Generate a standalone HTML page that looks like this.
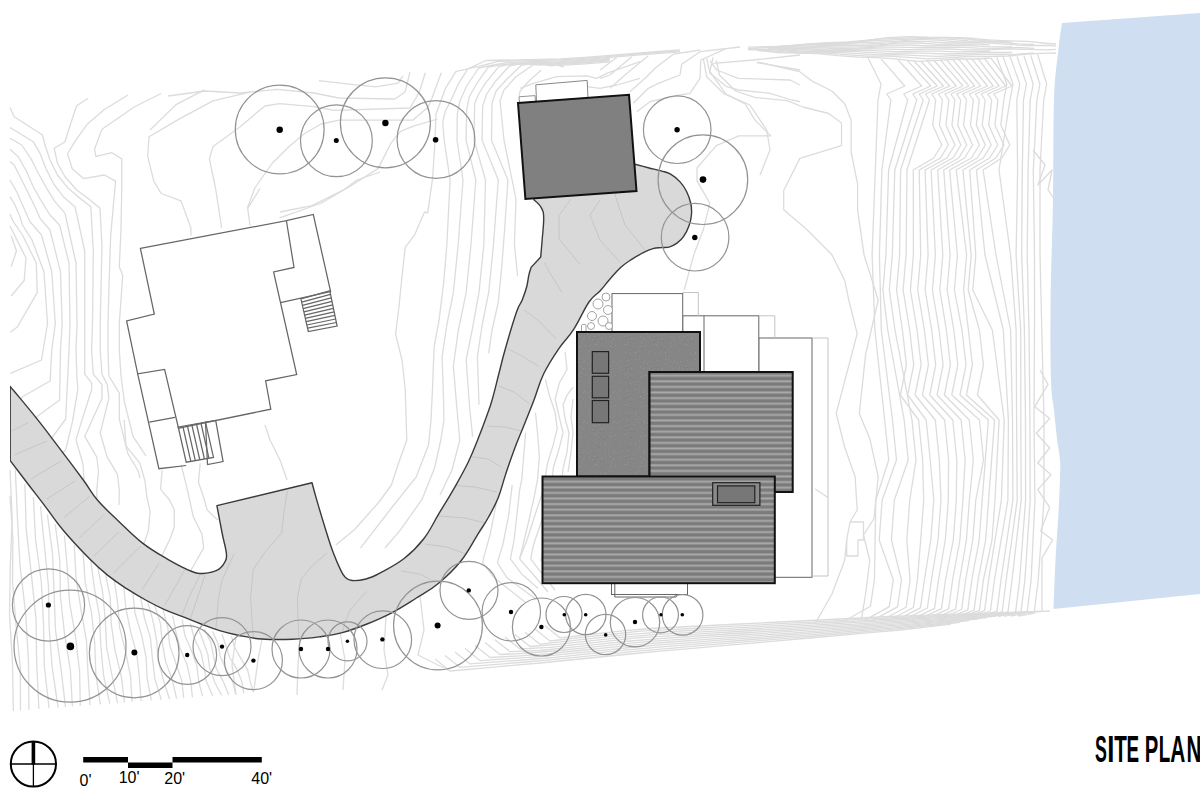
<!DOCTYPE html>
<html><head><meta charset="utf-8"><title>Site Plan</title>
<style>
html,body{margin:0;padding:0;background:#fff;}
body{width:1200px;height:810px;overflow:hidden;position:relative;font-family:"Liberation Sans",sans-serif;}
svg{position:absolute;left:0;top:0;}
</style></head><body>
<svg width="1200" height="810" viewBox="0 0 1200 810">
<defs>
<pattern id="stripe" patternUnits="userSpaceOnUse" width="10" height="5.6" y="2.9">
<rect width="10" height="5.6" fill="#7b7b7b"/>
<rect y="2.2" width="10" height="2" fill="#a9a9a9"/>
</pattern>
<pattern id="stripe2" patternUnits="userSpaceOnUse" width="10" height="5.6" y="2.5">
<rect width="10" height="5.6" fill="#7b7b7b"/>
<rect y="2.2" width="10" height="2" fill="#a9a9a9"/>
</pattern>
<pattern id="stipple" patternUnits="userSpaceOnUse" width="30" height="30"><rect width="30" height="30" fill="#868686"/><rect x="19" y="8" width="1" height="1" fill="#8f8f8f"/><rect x="25" y="22" width="1" height="1" fill="#929292"/><rect x="26" y="14" width="1" height="1" fill="#959595"/><rect x="20" y="1" width="1" height="1" fill="#959595"/><rect x="3" y="11" width="1" height="1" fill="#7a7a7a"/><rect x="27" y="7" width="1" height="1" fill="#7a7a7a"/><rect x="17" y="3" width="1" height="1" fill="#959595"/><rect x="0" y="23" width="1" height="1" fill="#959595"/><rect x="13" y="8" width="1" height="1" fill="#959595"/><rect x="29" y="27" width="1" height="1" fill="#7a7a7a"/><rect x="5" y="24" width="1" height="1" fill="#929292"/><rect x="4" y="19" width="1" height="1" fill="#7a7a7a"/><rect x="4" y="4" width="1" height="1" fill="#929292"/><rect x="27" y="0" width="1" height="1" fill="#959595"/><rect x="24" y="6" width="1" height="1" fill="#959595"/><rect x="27" y="5" width="1" height="1" fill="#8f8f8f"/><rect x="10" y="6" width="1" height="1" fill="#959595"/><rect x="5" y="22" width="1" height="1" fill="#959595"/><rect x="28" y="12" width="1" height="1" fill="#8f8f8f"/><rect x="0" y="11" width="1" height="1" fill="#7a7a7a"/><rect x="5" y="29" width="1" height="1" fill="#959595"/><rect x="8" y="2" width="1" height="1" fill="#8f8f8f"/><rect x="9" y="26" width="1" height="1" fill="#929292"/><rect x="19" y="21" width="1" height="1" fill="#8f8f8f"/><rect x="2" y="9" width="1" height="1" fill="#8f8f8f"/><rect x="26" y="9" width="1" height="1" fill="#7a7a7a"/><rect x="22" y="10" width="1" height="1" fill="#959595"/><rect x="15" y="15" width="1" height="1" fill="#959595"/><rect x="1" y="8" width="1" height="1" fill="#929292"/><rect x="23" y="11" width="1" height="1" fill="#7a7a7a"/><rect x="0" y="17" width="1" height="1" fill="#7a7a7a"/><rect x="11" y="12" width="1" height="1" fill="#929292"/><rect x="14" y="1" width="1" height="1" fill="#959595"/><rect x="19" y="6" width="1" height="1" fill="#929292"/><rect x="24" y="7" width="1" height="1" fill="#7a7a7a"/><rect x="11" y="16" width="1" height="1" fill="#8f8f8f"/><rect x="28" y="16" width="1" height="1" fill="#8f8f8f"/><rect x="24" y="14" width="1" height="1" fill="#929292"/><rect x="18" y="23" width="1" height="1" fill="#8f8f8f"/><rect x="27" y="9" width="1" height="1" fill="#929292"/><rect x="13" y="2" width="1" height="1" fill="#959595"/><rect x="10" y="16" width="1" height="1" fill="#8f8f8f"/><rect x="29" y="4" width="1" height="1" fill="#8f8f8f"/><rect x="8" y="29" width="1" height="1" fill="#929292"/><rect x="9" y="21" width="1" height="1" fill="#8f8f8f"/></pattern>
</defs>
<rect width="1200" height="810" fill="#fff"/>

<!-- CONTOURS -->
<g fill="none" stroke="#dcdcdc" stroke-width="1.3" stroke-linejoin="round"><polyline points="161.2,93.5 134.1,107 102,129.3 94.6,149 95.8,156.4 111.9,152.7 121.7,158.9 121.7,193.5 121,228.6 119.3,266.7 122.7,275.3 119.3,323.7 119.3,350 121,376 124.4,401.8 133,436.4 140,446.8 146,456"/><polyline points="128,95 104.4,109.5 87.2,124.3 74.8,141.6 67.4,154 72.3,168.8 83.5,178.6 104.4,175 115.6,181.1 113.1,208.3 110.6,237.3 108.9,289 108,323.7 108,350 108.9,376 119.3,393.2 119.3,419.1 127.9,453.7 138.3,471 140,478"/><polyline points="88.3,98.3 76.7,105.8 70.8,123.3 65,141.7 54.2,148.3 57.5,163.3 65,176.7 76.7,190 90,200 100,208.3 102,246 100.2,323.7 100.2,350 102,374.2 107.2,384.6 108.9,398.4 100.2,433 107.2,457.2 117.5,474.4 119.3,490 119,505"/><polyline points="10,107.5 14.2,116.7 42.5,135 45,145 50,160 57.5,175 68.3,188.3 80,198.3 90.8,206.7 93.3,251 92.5,323.7 91.6,350 93.3,374.2 102,384.6 102,398.4 84.7,436.4 96.8,457.2 98.5,471 96.8,490 97,500"/><polyline points="10,127.5 33.3,141.7 40,153.3 45.8,168.3 53.3,183.3 63.3,196.7 75,206.7 84.7,251 84.7,323.7 84.7,350 84.7,374.2 91.6,382.8 91.6,389.7 81.2,422.6 76,439.9 83,464 84,480"/><polyline points="10,138.3 21.7,145 30.8,158.3 38.3,173.3 46.7,188.3 55,201.7 65,213.3 76,263 77,323.7 76,350 76.9,376 77.8,389.7 72.6,420.9 65.7,450.2 62,453"/><polyline points="10,149.2 18.3,156.7 26.7,171.7 33.3,186.7 41.7,201.7 50,215 59.6,225 69,263 70,323.7 69,350 65.7,419 51.8,438 49,440"/><polyline points="10,161.7 14.2,165 21.7,180 28.3,193.3 35,206.7 40,218.3 50,230 60.5,271.8 62.2,323.7 60.5,350 59.6,400 38,415.7 35,419"/><polyline points="10,180 16.7,191.7 23.3,206.7 30,221.7 41.5,235 51.8,271.8 55.3,323.7 51.8,350 50.1,381 22.5,396.7 20,400"/><polyline points="10,196.7 15,205 20,216.7 22.5,225 32,240 44,271.8 47.5,323.7 41.5,360 10.4,373.3"/><polyline points="10,214.2 13.3,221.7 22.5,235 36.3,263 37.2,292.6 17.3,327 10.4,332.3"/><polyline points="10,226 13,232 26,258 24.2,280.5 11.2,296"/><polyline points="11.2,235.6 16.4,251 11.2,266.7"/><polyline points="319,80.7 351,84.4 375.8,86.9 398,83.2 403,75.8"/><polyline points="168,96 205,91 240,93 277,89.4 314,93 338.8,98 395,99 405,92 410,72"/><polyline points="221.7,228 215.6,188.5 209.4,158.9 213,146.5 240.2,126.8 257.5,112 265,106 279.6,103.7 314,106.7 333.8,110.4 410,108 416,98 420,90 425.3,72.7"/><polyline points="250,92.2 213,100.9 178.5,119.4 149,136.7 147.7,156.4 153.8,181.1 161.2,193.5 181,200.9 190.9,228 190.9,235.4"/><polyline points="204.4,89.8 176,104.6 150,130"/><polyline points="321,124 338.8,120.2 412.8,120.2 428,107.3 432,98 441.3,72.7"/><polyline points="247.4,208 254.8,188 272,163.5 289.4,146.2 304.2,133.8 321,124"/><polyline points="279.5,217.8 321.5,203 351,185.7 378.3,168.4 390.6,143.7 400.5,131.4 412.8,126.4 437.5,119"/><polyline points="260,188.5 247.7,208.3 250,225.6"/><polyline points="280,212 312,205.7 344.2,189.6 357,180 380,172"/><polyline points="436,114 435,141 432.6,178.3 427.7,212.8 424.5,212 414.8,234.6 405.2,247.4 402,276.3 398.8,308.4 395.6,334.1 402,359.8 405.2,388.7 406.8,440 397.6,466 391.4,485 379,502 354.4,529.7 335.8,545.1"/><polyline points="442.7,122 444,138.8 450.1,180 446.9,244.2 443.7,282.7 438.9,321.3 434.1,346.9 432.5,388.7 431,420 428.5,445 416.1,477.2 391.4,508 360.5,548.2"/><polyline points="457.3,114 457,140 463,180 458.2,244.2 453.4,292.4 446.9,324.5 442.1,356.6 443.7,404.7 443.9,420 440.8,440 434.6,467.9 422.3,498.8 400.7,529.7 385,548"/><polyline points="466.7,110 466,140 475.8,180 471,244.2 466.2,292.4 458.2,330.9 453.4,366.2 456.6,404.7 459.8,440 452,470 440,495"/><polyline points="474.7,103.3 474,140 485.5,180 483.9,244.2 479,292.4 472.6,327.7 466.2,359.8 469.4,404.7 472.6,436.8"/><polyline points="482.7,106 482,140 498.3,180 493.5,244.2 488.7,292.4 482.2,324.5 477.4,356.6 479,404.7"/><polyline points="492,103.3 491.5,140 507.9,180 504.7,228.2 501.5,269.9 498.3,302 491.9,330.9 488.7,353.4"/><polyline points="500,100.7 504,140 516,199.3 514.4,244.2 517.6,276.3"/><polyline points="713,57.3 709.9,71.7 726,94.2 745.2,103.8 754.8,119.9 770.9,135.9 738.8,135.9 716.3,145.6 697,168 697,180.9 709.9,203.4 703.5,229 693.8,254.7 684.2,290"/><polyline points="716.3,60.5 719.5,75 735.6,91 754.8,97.4 787,100.6 803,107 828.7,113.5 841.5,123.1 841.5,145.6 799.8,158.4 783.7,190.5 783.7,209.8 806.2,229 831.9,254.7 844.7,280.4 848.8,300 857.2,333.6 836.2,413.4 844.6,447 855.1,476.5 857.2,510 850,522 846.7,540 844.6,560.5 832,594 815.2,623.5"/><polyline points="758,62.1 799.8,71.7 812.6,81.4 831.9,91 844.7,103.8 851.1,119.9 851.1,152 857.6,184.1 857.6,209.8 864,254.7 872,280 878.2,300 865.6,354.6 859.3,413.4 869.8,438.7 878.2,476.5 874,518.5 863.5,535 869.8,560.5 865.6,594 861.4,619.3"/><polyline points="680,50 640,53 610,55.5 585,57.5 560,59 486,60.5 468,68.8 456,71.3 445.3,88.7 440,103.3 436,114"/><polyline points="680,50.9 640,53.9 610,56.4 585,58.4 560,59.9 498,61.4 480,66.2 468,68.7 458.7,83.3 450.7,100.7 445.3,111.3 442.7,122"/><polyline points="680,51.8 640,54.8 610,57.3 585,59.3 560,60.8 508.7,62.3 490.7,65.5 478.7,68 466.7,86 460,100.7 457.3,114"/><polyline points="610,58.2 585,60.2 560,61.7 518,63.2 500,64.8 488,67.3 476,84.7 469.3,96.7 466.7,110"/><polyline points="610,59.1 585,61.1 560,62.6 528.7,64.1 510.7,64.2 498.7,66.7 485.3,83.3 478.7,94 474.7,103.3"/><polyline points="610,60 585,62 560,63.5 539.3,65 521.3,63.5 509.3,66 496,80.7 486.7,94 482.7,106"/><polyline points="610,60.9 585,62.9 560,64.4 551.3,65.9 533.3,62.8 521.3,65.3 506.7,79.3 496,91.3 492,103.3"/><polyline points="610,61.8 585,63.8 560,65.3 563.3,66.8 545.3,62.2 533.3,64.7 516,76.7 504,90 500,100.7"/><polyline points="541.3,70 528,82 520,91.3 519,96"/><polyline points="520,88.3 533.3,83.3 556.7,76.7 586.7,75.8 596.7,78.3 606.7,73.3 640,61.7"/><polyline points="586.7,86.7 600,88.3 616.7,85 640,78.3"/><polyline points="600,70 616.7,57.5"/><polyline points="600,78.3 610,75 631.7,56.7"/><polyline points="610,88.3 625,75 648.3,55.8"/><polyline points="630,91.7 646.7,76.7 655,68.3 673.3,54.2 700,50"/><polyline points="633.3,103.3 648.3,88.3 658.3,83.3 680,75 681.7,64.2 700,51.7 740,47"/><polyline points="636.7,111.7 650,101.7 680,95 690,93.3 700,78.3 700.8,60 725,49.2"/><polyline points="703.3,58.3 706.7,76.7 723.3,93.3 750,105 766.7,130 770,150 760,175"/><polyline points="706.7,58.3 710,73.3 726.7,86.7 738.3,90 770,93.3 791.7,100 800,101.7"/><polyline points="710,60.8 716.7,70 738.3,78.3 790,80 800,85"/><polyline points="713.3,63.3 753.3,60 800,55"/><polyline points="756.7,62.5 800,70"/><polyline points="850,522 863.5,522 863.5,540 858,540 858,556 846.7,556 846.7,540"/><polyline points="815.2,489 827.8,497.5"/><polyline points="565.1,351.7 567,369.4 559.2,383.3 555.2,399 559.2,416.8 563.1,432.6 559.2,448.3 553.3,468 551.3,489.8 541.9,520 533.5,545 530.7,558.9 541.9,573.7 555,590"/><polyline points="545.4,379.3 549.3,395.1 555.2,412.8 557.2,428.6 553.3,444.4 547.3,464.1 543.4,489.8 535,515 527,540 519.6,558.9 532.6,573.7 548,592"/><polyline points="573,387.2 567,395.1 563.1,405 565.1,418.8 569,432.6 567,452.3 563.1,468 561.1,487.8 550,515 545,540 541,560 555,575"/><polyline points="573,399 571,416.8 573,432.6 571,452.3 568,472"/><polyline points="535.5,412.8 537.5,432.6 539.4,456.2 537.5,479.9 533.5,500 529,520 523.3,544 519.6,558.9"/><polyline points="525.6,432.6 523.7,456.2 521.7,479.9 519.6,490 517.8,507 514,540.4 510.4,558.9 521.5,573.7 538.1,588.5"/><polyline points="512.2,484.8 508.5,516.3 503,544 497.4,562.6 506.7,577.4 521.5,588.5 536.3,599.6"/><polyline points="499.3,475.6 495.6,507 490,534.8 484.4,555.2 482.6,562.6 493.7,577.4 510.4,590.4 525,602"/><polyline points="124.2,420 125.9,445.9 139.8,463.2 144.9,480.5 146.7,496 150.1,511.6 148.4,530.6 144.9,541 142,548"/><polyline points="162.2,470.1 160.5,489.1 169.1,499.5 174.3,509.9 174.3,527.2 169.1,541 163.9,551.4 160,560"/><polyline points="181.2,465 186.4,485.7 189.9,501.2 193.3,516.8 202,534.1 203.7,547.9 196.8,560 190,572"/><polyline points="200.2,463.2 198.5,482.2 203.7,497.8 207.2,509.9 214,516.8 218,520"/><polyline points="1040,370 1048,384.4 1034.8,406.7 1049.6,418.5 1036.3,433.3 1049.6,448 1037.8,463 1051,474.8 1037.8,489.6 1049.6,507.4 1040.7,531 1052.6,540 1042,557.8 1042,612"/><polyline points="1033,150 1045,165 1038,185 1052,170 1048,190 1055,200"/><polyline points="265,425 270,440 280,460 287,480"/><polyline points="10,470 12.2,518.2 10.3,566.4 9.5,614.7 12.5,662.9 13.4,711.1"/><polyline points="10,495.8 12.9,538.7 12.5,581.7 16,624.6 20.3,667.5 20.5,710.4"/><polyline points="15.3,469.2 17.4,517.3 20,565.4 25.7,613.5 28.5,661.6 28.9,709.7"/><polyline points="24.9,483.9 26.2,528.9 31.3,573.9 36,618.9 36.7,663.9 38.9,708.9"/><polyline points="33.4,497 35.5,539.3 41.3,581.5 43.5,623.7 44.3,666 49.1,708.2"/><polyline points="40.5,506.1 44.5,546.4 48.5,586.7 49.1,627 52.2,667.4 58.1,707.7"/><polyline points="47.4,514.6 52.5,553.1 54,591.6 55.5,630.1 61,668.6 65.5,707.1"/><polyline points="55.3,524.3 59.8,560.7 60.5,597.2 64.5,633.6 70.4,670.1 72.4,706.5"/><polyline points="64.5,535.7 67.4,569.7 69.7,603.7 75.7,637.7 79.6,671.8 80.3,705.8"/><polyline points="74.2,545.3 76,577.2 80.9,609.2 86.5,641.1 88,673.1 90,705"/><polyline points="83.1,552.9 85.3,583.1 91.6,613.4 94.8,643.7 95.8,674 100.3,704.3"/><polyline points="90.6,559.2 94.4,588.1 99.6,617 100.8,645.9 103.5,674.8 109.8,703.7"/><polyline points="97.4,565.1 102.7,592.7 105.3,620.3 106.7,647.9 112,675.5 117.6,703.2"/><polyline points="104.9,571.1 110.2,597.4 111.2,623.7 114.9,650 121.3,676.3 124.5,702.6"/><polyline points="113.8,577.7 117.6,602.5 119.6,627.3 125.7,652.2 130.7,677 132,701.9"/><polyline points="123.5,584.8 125.9,608 130.5,631.3 136.9,654.6 139.4,677.8 141.1,701.1"/><polyline points="132.7,591.6 135,613.3 141.6,635.1 146,656.8 147.2,678.6 151.4,700.4"/><polyline points="140.5,596.7 144.3,617.3 150.4,637.9 152.4,658.5 154.9,679.1 161.3,699.7"/><polyline points="147.4,600.7 152.9,620.4 156.6,640.1 158.1,659.8 163.2,679.5 169.6,699.2"/><polyline points="154.6,604.9 160.5,623.7 162.2,642.4 165.5,661.2 172.3,679.9 176.6,698.6"/><polyline points="163.1,609.9 167.8,627.5 169.7,645.1 175.7,662.7 181.7,680.3 183.7,697.9"/><polyline points="172.7,615.3 175.8,631.6 180,648 187,664.4 190.6,680.8 192.4,697.2"/><polyline points="182.2,619.7 184.7,635 191.4,650.4 196.9,665.7 198.7,681.1 202.5,696.4"/><polyline points="190.4,623.5 194.1,638 201,652.4 204,666.9 206.3,681.3 212.7,695.8"/><polyline points="197.5,626.8 202.9,640.5 207.8,654.2 209.6,667.9 214.4,681.5 221.5,695.2"/><polyline points="204.4,629.1 210.8,642.2 213.3,655.4 216.3,668.5 223.3,681.6 228.7,694.7"/><polyline points="212.5,631.2 218.1,643.8 220.1,656.3 225.8,668.9 232.7,681.5 235.6,694"/><polyline points="221.9,633.7 225.8,645.6 229.7,657.5 237,669.4 241.8,681.4 243.8,693.3"/><polyline points="231.5,636.1 234.5,647.3 241,658.6 247.6,669.9 250.1,681.2 253.6,692.5"/><polyline points="262,639 258,660 254,690"/><polyline points="300,639 298,665 297,695"/><polyline points="340,632 345,660 343,690"/><polyline points="386,615 384,650 388,675 382,690"/><polyline points="420,596 424,630 418,655 450,671"/><polyline points="236,637 232,665 236,695"/><polyline points="868.1,58 881,84 878,100 875.3,170 872.1,255 874.9,330 884.7,420 888.7,460 875.8,500 874.4,580 870.4,606.3 844.8,620.8"/><polyline points="881.1,58.9 904.8,86 886.8,94 890.8,100 881.9,170 879.4,255 881.3,330 892.5,420 896.5,460 882.2,500 879.2,540 893.3,580 889.3,606.6 864.2,620.6"/><polyline points="898.2,60 921.7,86 903.7,94 907.7,100 888.6,170 885.9,255 882.9,290 887.7,330 904.2,420 908.2,460 894.4,500 891.4,540 901.5,580 897.5,606.9 872.7,620.4"/><polyline points="907.4,60.6 930.8,86 912.8,94 916.8,100 894.8,170 892.3,255 889.3,290 895,330 912,420 916,460 909.8,500 906.8,540 910.1,580 906.1,607.2 881.7,620.2"/><polyline points="914,61 937.2,86 919.2,94 923.2,100 900.6,170 899.6,255 896.6,290 902.4,330 906.4,365 900.4,395 918.6,420 922.6,460 923.7,500 920.7,540 917.4,580 913.4,607.5 889.5,620"/><polyline points="920.5,60.7 943.5,86 925.5,94 929.5,100 907,170 906.1,255 903.1,290 909.7,330 913.7,365 907.7,395 926.2,420 930.2,460 933.8,500 930.8,540 924.4,580 920.4,607.8 896.9,619.8"/><polyline points="926.9,60.4 949.7,86 931.7,94 935.7,100 932.7,125 941.7,145 933.7,158 913.3,170 913.4,255 910.4,290 917.1,330 921.1,365 915.1,395 935.3,420 939.3,460 941,500 938,540 931.4,580 927.4,608 904.4,619.5"/><polyline points="933.8,60.2 956.4,86 938.4,94 942.4,100 939.4,125 948.4,145 940.4,158 919.2,170 920.7,255 917.7,290 924.4,330 928.4,365 922.4,395 944.6,420 948.6,460 948.3,500 945.3,540 938.5,580 934.5,608.3 911.8,619.3"/><polyline points="940.4,59.9 962.9,86 944.9,94 948.9,100 945.9,125 954.9,145 946.9,158 925.1,170 928.1,255 925.1,290 931.7,330 935.7,365 929.7,395 952.8,420 956.8,460 956.3,500 953.3,540 945.5,580 941.5,608.6 919.3,619.1"/><polyline points="946.5,59.7 968.9,86 950.9,94 954.9,100 951.9,125 960.9,145 952.9,158 931.1,170 935.4,255 932.4,290 939.1,330 943.1,365 937.1,395 961.1,420 965.1,460 962.9,500 959.9,540 952.6,580 948.6,608.9 926.7,618.9"/><polyline points="952.6,59.4 974.7,86 956.7,94 960.7,100 957.7,125 966.7,145 958.7,158 937.7,170 942.8,255 939.8,290 946.4,330 950.4,365 944.4,395 969.3,420 973.3,460 969.4,500 966.4,540 959.6,580 955.6,609.2 934.1,618.7"/><polyline points="958.6,59.2 980.6,86 962.6,94 966.6,100 963.6,125 972.6,145 964.6,158 943.7,170 950.1,255 947.1,290 953.8,330 957.8,365 951.8,395 979.5,420 983.5,460 975.8,500 972.8,540 965.6,580 961.6,609.5 940.6,618.5"/><polyline points="965.6,58.9 987.4,86 969.4,94 973.4,100 970.4,125 979.4,145 971.4,158 949.6,170 957.4,255 954.4,290 962,330 966,365 960,395 988.4,420 982.2,500 979.2,540 971.8,580 967.8,609.8 947.2,618.3"/><polyline points="971.7,58.7 993.3,86 975.3,94 979.3,100 976.3,125 985.3,145 977.3,158 956.2,170 966.6,255 963.6,290 968.4,330 972.4,365 966.4,395 994.6,420 988.6,500 985.6,540 978.1,580 974.1,610.1 953.9,618.1"/><polyline points="977.7,58.4 999.2,86 981.2,94 985.2,100 982.2,125 991.2,145 983.2,158 962.9,170 971.2,255 968.2,290 979.4,330 983.4,365 977.4,395 999.1,420 995,500 992,540 983.4,580 979.4,610.4 959.6,617.9"/><polyline points="984.3,58.2 1005.7,86 987.7,94 991.7,100 988.7,125 997.7,145 989.7,158 969.7,170 975.8,255 972.8,290 992.3,330 1004.2,420 1001.4,500 988.6,580 984.6,610.7 965.3,617.7"/><polyline points="990.7,57.9 1011.9,86 993.9,94 997.9,100 994.9,125 1003.9,145 995.9,158 976.4,170 985,255 1003.3,330 1008.4,420 1007.9,500 994.4,580 990.4,611 971.5,617.5"/><polyline points="996.8,57.5 1006.8,84 1003.8,100 1000.8,125 1009.8,145 1001.8,158 983.1,170 996,255 1010.6,330 1012.5,420 1012.9,500 1001,580 997,611.2 978.5,617.2"/><polyline points="1003.2,57.1 1013,84 1010,100 999,170 1010.6,255 1016.1,330 1016.6,420 1017.2,500 1006.2,580 1002.2,611.5 984.2,617"/><polyline points="1010.1,56.6 1019.8,84 1016.8,100 1017.6,170 1016.1,255 1020.7,330 1020.8,420 1021.2,500 1012,580 1008,611.8 990.3,616.8"/><polyline points="1017,56.2 1026.5,84 1023.5,100 1022.3,170 1021.7,255 1024.4,330 1025.5,420 1025.6,500 1019.6,580 1015.6,612.1 998.3,616.6"/><polyline points="1023.9,55.7 1033.2,84 1030.2,100 1028.1,170 1027.2,255 1029,330 1029.9,420 1030.2,500 1024.9,580 1020.9,612.4 1004.1,616.4"/><polyline points="1030.7,55.3 1039.9,84 1036.9,100 1033.3,170 1034.5,255 1034.5,330 1034,420 1034.9,500 1031.1,580 1027.1,612.7 1010.7,616.2"/><polyline points="1037.7,54.8 1046.7,84 1043.7,100 1040,170 1040,255 1041.8,330 1044,420 1044,500 1038.2,580 1034.2,613 1018.2,616"/></g><g fill="none" stroke="#dcdcdc" stroke-width="1.3" stroke-linejoin="round"><polyline points="748,47.2 768,46.7 788,46.1 808,44 828,42.7 848,42 868,40.1 888,37.6 908,36.6 928,37.2 948,37.3 968,38 988,39.9 1008,40.8 1028,41.4 1048,43.5 1056,44"/><polyline points="758,47.4 778,46.8 798,44.9 818,43.7 838,43.3 858,41.5 878,39.1 898,38.3 918,37.6 938,37.6 958,38.4 978,40.2 990,40.2"/><polyline points="768,47.6 788,45.7 808,44.7 828,44.7 848,42.9 868,40.8 888,40.2 908,39.2 928,38.3 948,39.2 968,40.9 988,41.2 1008,41.4 1012,42.3"/><polyline points="778,46.5 798,45.8 818,45.8 838,44.4 858,42.5 878,42.1 898,41.2 918,39.4 938,40.2 958,41.8 978,42 998,42 1018,43.8 1034,44.4"/><polyline points="748,48.8 768,47.2 788,46.7 808,46.9 828,45.7 848,44.1 868,43.9 888,43.1 908,41.2 928,41.6 948,43 968,42.9 988,42.9 1008,44.4 1028,45.5 1048,45.3 1056,46.2"/><polyline points="758,47.8 778,47.5 798,47.8 818,46.7 838,45.5 858,45.6 878,45 898,43.2 918,43 938,44.4 958,44.2 978,44.1 990,44.9"/><polyline points="768,48.2 788,48.6 808,47.6 828,46.9 848,47.2 868,46.7 888,45.2 908,45 928,46 948,45.6 968,45.5 988,46.7 1008,47 1012,46.7"/><polyline points="778,49.3 798,48.4 818,47.9 838,48.6 858,48.2 878,47 898,47.1 918,47.7 938,47.3 958,47.1 978,48.2 998,48.3 1018,47.5 1034,48.3"/><polyline points="748,49 768,49.7 788,49 808,48.8 828,49.8 848,49.5 868,48.6 888,49.1 908,49.7 928,49.2 948,49 968,49.9 988,49.8 1008,48.8 1028,49.4 1048,49.9 1056,49.3"/><polyline points="758,50 778,49.4 798,49.5 818,50.7 838,50.7 858,50 878,50.8 898,51.6 918,51.1 938,51.1 958,51.9 978,51.4 990,51.1"/><polyline points="768,49.7 788,50.1 808,51.5 828,51.6 848,51.2 868,52.4 888,53.3 908,52.9 928,53.4 948,54 968,53.3 988,52.3 1008,52.5 1012,52.3"/><polyline points="778,50.4 798,52 818,52.3 838,52.3 858,53.7 878,54.9 898,54.7 918,55.6 938,56.4 958,55.4 978,54.3 998,54.5 1018,54.1 1034,52.9"/><polyline points="748,49.5 768,50.6 788,52.4 808,52.8 828,53.1 848,54.8 868,56.1 888,56.2 908,57.4 928,58.9 948,57.8 968,56.5 988,56.7 1008,56 1028,54 1048,53.2 1056,53"/><polyline points="758,50.5 778,52.5 798,53.1 818,53.7 838,55.7 858,57.1 878,57.6 898,59.1 918,61.3 938,60.3 958,59 978,59 990,58.2"/><polyline points="545,625.8 560,637.8 590,634.5 620,631.2 650,628.5 680,627 710,625.5 740,624 770,622.5 800,621 830,619.5 860,618 890,616.5 920,615.3 950,614.3 980,613.3 1010,612.3 1040,611.3 1050,611"/><polyline points="535,629 550,641 580,637.7 610,634.5 640,631.2 670,629.6 700,628 730,626.4 760,624.8 790,623.2 820,621.6 850,619.9 880,618.3 910,616.9 940,615.6 970,614.4 1000,613.2 1030,612 1041,611.5"/><polyline points="525,632.2 540,644.2 570,640.9 600,637.7 630,634.4 660,632.2 690,630.5 720,628.8 750,627.1 780,625.4 810,623.7 840,622 870,620.3 900,618.5 930,617.1 960,615.7 990,614.2 1020,612.8 1032,612.2"/><polyline points="515,634.5 530,646.5 560,644.1 590,640.9 620,637.7 650,634.9 680,633.1 710,631.3 740,629.5 770,627.7 800,625.9 830,624.1 860,622.2 890,620.4 920,618.7 950,617.1 980,615.4 1010,613.8 1023,613"/><polyline points="505,637 520,649 550,647.3 580,644.1 610,640.9 640,637.7 670,635.8 700,633.9 730,632 760,630 790,628.1 820,626.2 850,624.3 880,622.4 910,620.5 940,618.6 970,616.7 1000,614.8 1014,614"/><polyline points="495,639.7 510,651.7 540,650.5 570,647.3 600,644.1 630,641 660,638.6 690,636.5 720,634.5 750,632.5 780,630.5 810,628.4 840,626.4 870,624.4 900,622.4 930,620.3 960,618.2 990,616.1 1005,615"/><polyline points="485,642.5 500,654.5 530,653 560,650.5 590,647.3 620,644.2 650,641.4 680,639.3 710,637.1 740,635 770,632.9 800,630.7 830,628.6 860,626.5 890,624.3 920,622.1 950,619.8 980,617.5 996,616.2"/><polyline points="475,645.5 490,657.5 520,655.8 550,653.6 580,650.5 610,647.4 640,644.3 670,642 700,639.8 730,637.6 760,635.3 790,633.1 820,630.9 850,628.6 880,626.4 910,624.1 940,621.5 970,619 987,617.6"/><polyline points="465,648.6 480,660.6 510,658.7 540,656.7 570,653.6 600,650.6 630,647.5 660,644.9 690,642.6 720,640.2 750,637.9 780,635.5 810,633.2 840,630.9 870,628.5 900,626.2 930,623.4 960,620.7 978,619"/><polyline points="455,651.9 470,663.9 500,661.7 530,659.5 560,656.8 590,653.7 620,650.7 650,647.8 680,645.4 710,642.9 740,640.5 770,638 800,635.6 830,633.2 860,630.7 890,628.3 920,625.5 950,622.5 969,620.6"/><polyline points="445,655.4 460,667.4 490,664.9 520,662.5 550,659.9 580,656.9 610,653.8 640,650.8 670,648.3 700,645.7 730,643.2 760,640.6 790,638.1 820,635.5 850,633 880,630.4 910,627.7 940,624.5 960,622.4"/><polyline points="435,659 450,671 480,668.3 510,665.7 540,663 570,660 600,657 630,654 660,651.2 690,648.6 720,645.9 750,643.3 780,640.6 810,638 840,635.3 870,632.7 900,630 930,626.6 951,624.2"/></g>
<!-- WATER -->
<path d="M1062,23 L1200,13 L1200,594 L1053.5,609 C1053.8,600.5 1054.8,574.0 1055.6,558 C1056.4,542.0 1057.8,526.3 1058.5,513 C1059.2,499.7 1059.8,486.8 1060,478 C1060.2,469.2 1060.5,466.5 1060,460 C1059.5,453.5 1058.0,447.3 1057,439 C1056.0,430.7 1055.0,419.8 1054,410 C1053.0,400.2 1051.6,398.3 1051,380 C1050.4,361.7 1050.3,330.0 1050.6,300 C1050.9,270.0 1052.4,233.5 1053,200 C1053.6,166.5 1053.1,124.2 1054,99 C1054.9,73.8 1057.2,61.7 1058.5,49 C1059.8,36.3 1061.4,27.3 1062,23 Z" fill="#cfdff1"/>

<!-- ROAD -->
<clipPath id="roadclip"><path d="M634,164 C634.0,164.0 642.8,166.3 648.2,167.7 C653.6,169.1 656.5,169.6 661,170.9 C665.5,172.2 666.7,171.9 670.6,174.1 C674.5,176.3 677.1,178.6 680.3,182.1 C683.5,185.6 684.6,187.5 686.7,191.7 C688.8,195.9 689.7,198.5 690.7,203 C691.7,207.5 691.8,209.7 691.5,214.2 C691.2,218.7 690.7,220.9 689.1,225.4 C687.5,229.9 685.9,233.2 683.5,236.7 C681.1,240.2 679.9,241.0 677,243.1 C674.1,245.2 672.2,246.2 669,247.1 C665.8,248.0 664.2,247.3 661,247.6 C657.8,247.9 656.5,247.7 653,248.7 C649.5,249.7 647.5,250.6 643.3,252.7 C639.1,254.8 636.6,256.2 632.1,259.1 C627.6,262.0 625.3,263.2 620.9,267.2 C616.5,271.2 614.2,274.2 610,279 C605.8,283.8 604.2,286.4 600,291 C595.8,295.6 594.3,294.3 589,302 C583.7,309.7 579.6,320.2 573.5,329.6 C567.4,339.0 564.5,340.3 558.5,349.1 C552.5,357.9 548.6,363.6 543.7,373.8 C538.8,384.0 537.9,389.8 534,400 C530.1,410.2 528.1,414.8 524.2,424.7 C520.3,434.6 518.0,439.5 514.3,449.4 C510.6,459.3 508.9,464.5 505.7,474.1 C502.5,483.7 501.8,488.7 498.3,497.5 C494.8,506.3 492.0,510.7 488,518 C484.0,525.3 483.5,525.2 478.1,533.8 C472.7,542.4 468.8,551.1 460.9,561 C453.0,570.9 447.5,575.8 438.6,583.2 C429.7,590.6 425.8,592.1 416.4,598 C407.0,603.9 401.6,607.6 391.7,612.8 C381.8,618.0 376.9,620.0 367,624 C357.1,628.0 351.7,630.0 342.3,632.6 C332.9,635.2 329.9,635.5 320,636.8 C310.1,638.1 304.3,638.9 292.6,639.3 C280.9,639.7 272.6,639.8 261.7,639 C250.8,638.2 246.5,636.9 238.1,635.2 C229.7,633.5 227.0,632.8 219.6,630.6 C212.2,628.4 208.5,626.8 201.1,624 C193.7,621.2 190.0,619.6 182.6,616.7 C175.2,613.8 171.4,612.6 164,609.3 C156.6,606.0 153.0,604.1 145.6,600 C138.2,595.9 134.4,593.7 127,588.9 C119.6,584.1 115.9,581.8 108.5,575.9 C101.1,570.0 99.1,568.5 90,559.3 C80.9,550.1 71.7,540.3 63,530 C54.3,519.7 53.3,517.1 46.3,507.8 C39.3,498.5 35.0,493.1 27.8,483.7 C20.6,474.3 10.2,460.6 10.2,460.6 C10.2,460.6 10.2,386.5 10.2,386.5 C10.2,386.5 26.8,406.1 37,418.9 C47.2,431.7 51.8,438.2 61.1,450.4 C70.4,462.6 76.0,470.1 83.3,480 C90.6,489.9 90.5,491.9 97.4,500 C104.3,508.1 108.9,511.9 117.8,520.4 C126.7,528.9 131.9,534.8 141.9,542.6 C151.9,550.4 157.8,553.5 167.8,559.3 C177.8,565.1 185.1,568.7 191.9,571.5 C198.7,574.3 198.2,573.3 202,573.5 C205.8,573.7 207.5,573.2 211,572.3 C214.5,571.4 216.6,571.0 219.4,568.9 C222.2,566.8 223.6,564.9 225,561.8 C226.4,558.7 227.0,559.1 226.4,553.4 C225.8,547.7 224.1,543.1 222.2,533.5 C220.3,523.9 216.9,505.6 216.9,505.6 C216.9,505.6 312.0,482.7 312,482.7 C312.0,482.7 314.4,491.9 317.3,501.9 C320.2,511.9 323.5,522.8 326.6,532.8 C329.7,542.8 330.3,544.9 333,552 C335.7,559.1 337.5,563.4 339.9,568.4 C342.3,573.4 342.6,574.6 345,577 C347.4,579.4 347.8,580.1 352,580.5 C356.2,580.9 360.5,580.4 366,579 C371.5,577.6 371.8,577.4 379.4,573.3 C387.0,569.2 395.2,565.4 404.1,558.5 C413.0,551.6 416.9,547.7 423.8,538.8 C430.7,529.9 432.7,524.0 438.6,514.1 C444.5,504.2 447.6,499.8 453.5,489.4 C459.4,479.0 463.5,471.9 468.3,462 C473.1,452.1 474.1,448.7 477.6,440 C481.1,431.3 482.9,426.5 485.8,418.5 C488.7,410.5 489.4,409.3 492.1,400 C494.8,390.7 496.7,382.0 499.3,372 C501.9,362.0 501.6,362.0 505,350 C508.4,338.0 513.1,322.1 516.5,312.1 C519.9,302.1 520.2,305.1 522.2,300 C524.2,294.9 525.4,291.7 526.7,286.7 C528.0,281.7 528.0,278.7 528.9,274.8 C529.8,270.9 531.1,267.4 531.1,267.4 C531.1,267.4 540.7,257.0 540.7,257 C540.7,257.0 541.6,247.0 542.2,239.3 C542.8,231.6 543.8,224.7 543.7,218.5 C543.6,212.3 543.4,211.8 541.5,208.1 C539.6,204.4 534.1,200.0 534.1,200 C534.1,200.0 530.0,170.0 530,170 C530.0,170.0 634.0,164.0 634,164Z"/></clipPath>
<path d="M634,164 C634.0,164.0 642.8,166.3 648.2,167.7 C653.6,169.1 656.5,169.6 661,170.9 C665.5,172.2 666.7,171.9 670.6,174.1 C674.5,176.3 677.1,178.6 680.3,182.1 C683.5,185.6 684.6,187.5 686.7,191.7 C688.8,195.9 689.7,198.5 690.7,203 C691.7,207.5 691.8,209.7 691.5,214.2 C691.2,218.7 690.7,220.9 689.1,225.4 C687.5,229.9 685.9,233.2 683.5,236.7 C681.1,240.2 679.9,241.0 677,243.1 C674.1,245.2 672.2,246.2 669,247.1 C665.8,248.0 664.2,247.3 661,247.6 C657.8,247.9 656.5,247.7 653,248.7 C649.5,249.7 647.5,250.6 643.3,252.7 C639.1,254.8 636.6,256.2 632.1,259.1 C627.6,262.0 625.3,263.2 620.9,267.2 C616.5,271.2 614.2,274.2 610,279 C605.8,283.8 604.2,286.4 600,291 C595.8,295.6 594.3,294.3 589,302 C583.7,309.7 579.6,320.2 573.5,329.6 C567.4,339.0 564.5,340.3 558.5,349.1 C552.5,357.9 548.6,363.6 543.7,373.8 C538.8,384.0 537.9,389.8 534,400 C530.1,410.2 528.1,414.8 524.2,424.7 C520.3,434.6 518.0,439.5 514.3,449.4 C510.6,459.3 508.9,464.5 505.7,474.1 C502.5,483.7 501.8,488.7 498.3,497.5 C494.8,506.3 492.0,510.7 488,518 C484.0,525.3 483.5,525.2 478.1,533.8 C472.7,542.4 468.8,551.1 460.9,561 C453.0,570.9 447.5,575.8 438.6,583.2 C429.7,590.6 425.8,592.1 416.4,598 C407.0,603.9 401.6,607.6 391.7,612.8 C381.8,618.0 376.9,620.0 367,624 C357.1,628.0 351.7,630.0 342.3,632.6 C332.9,635.2 329.9,635.5 320,636.8 C310.1,638.1 304.3,638.9 292.6,639.3 C280.9,639.7 272.6,639.8 261.7,639 C250.8,638.2 246.5,636.9 238.1,635.2 C229.7,633.5 227.0,632.8 219.6,630.6 C212.2,628.4 208.5,626.8 201.1,624 C193.7,621.2 190.0,619.6 182.6,616.7 C175.2,613.8 171.4,612.6 164,609.3 C156.6,606.0 153.0,604.1 145.6,600 C138.2,595.9 134.4,593.7 127,588.9 C119.6,584.1 115.9,581.8 108.5,575.9 C101.1,570.0 99.1,568.5 90,559.3 C80.9,550.1 71.7,540.3 63,530 C54.3,519.7 53.3,517.1 46.3,507.8 C39.3,498.5 35.0,493.1 27.8,483.7 C20.6,474.3 10.2,460.6 10.2,460.6 C10.2,460.6 10.2,386.5 10.2,386.5 C10.2,386.5 26.8,406.1 37,418.9 C47.2,431.7 51.8,438.2 61.1,450.4 C70.4,462.6 76.0,470.1 83.3,480 C90.6,489.9 90.5,491.9 97.4,500 C104.3,508.1 108.9,511.9 117.8,520.4 C126.7,528.9 131.9,534.8 141.9,542.6 C151.9,550.4 157.8,553.5 167.8,559.3 C177.8,565.1 185.1,568.7 191.9,571.5 C198.7,574.3 198.2,573.3 202,573.5 C205.8,573.7 207.5,573.2 211,572.3 C214.5,571.4 216.6,571.0 219.4,568.9 C222.2,566.8 223.6,564.9 225,561.8 C226.4,558.7 227.0,559.1 226.4,553.4 C225.8,547.7 224.1,543.1 222.2,533.5 C220.3,523.9 216.9,505.6 216.9,505.6 C216.9,505.6 312.0,482.7 312,482.7 C312.0,482.7 314.4,491.9 317.3,501.9 C320.2,511.9 323.5,522.8 326.6,532.8 C329.7,542.8 330.3,544.9 333,552 C335.7,559.1 337.5,563.4 339.9,568.4 C342.3,573.4 342.6,574.6 345,577 C347.4,579.4 347.8,580.1 352,580.5 C356.2,580.9 360.5,580.4 366,579 C371.5,577.6 371.8,577.4 379.4,573.3 C387.0,569.2 395.2,565.4 404.1,558.5 C413.0,551.6 416.9,547.7 423.8,538.8 C430.7,529.9 432.7,524.0 438.6,514.1 C444.5,504.2 447.6,499.8 453.5,489.4 C459.4,479.0 463.5,471.9 468.3,462 C473.1,452.1 474.1,448.7 477.6,440 C481.1,431.3 482.9,426.5 485.8,418.5 C488.7,410.5 489.4,409.3 492.1,400 C494.8,390.7 496.7,382.0 499.3,372 C501.9,362.0 501.6,362.0 505,350 C508.4,338.0 513.1,322.1 516.5,312.1 C519.9,302.1 520.2,305.1 522.2,300 C524.2,294.9 525.4,291.7 526.7,286.7 C528.0,281.7 528.0,278.7 528.9,274.8 C529.8,270.9 531.1,267.4 531.1,267.4 C531.1,267.4 540.7,257.0 540.7,257 C540.7,257.0 541.6,247.0 542.2,239.3 C542.8,231.6 543.8,224.7 543.7,218.5 C543.6,212.3 543.4,211.8 541.5,208.1 C539.6,204.4 534.1,200.0 534.1,200 C534.1,200.0 530.0,170.0 530,170 C530.0,170.0 634.0,164.0 634,164Z" fill="#d9d9d9"/>
<g clip-path="url(#roadclip)"><!-- ROADLINES --><g fill="none" stroke="#c6c6c6" stroke-width="1" stroke-linejoin="round"><polyline points="11.4,431 28.4,422.6"/><polyline points="14.2,455 46.9,441"/><polyline points="31.2,479 61,461"/><polyline points="46.9,499 75.3,480.8"/><polyline points="64,517.7 89.5,496.4"/><polyline points="79.5,537.6 103.7,515"/><polyline points="93.8,556 119,532"/><polyline points="113.6,573 140.6,546"/><polyline points="142,590 159,563"/><polyline points="164.8,605 184.7,570"/><polyline points="190,620 205,575"/><polyline points="524,309.6 540,322 556,339"/><polyline points="508,349 522,356 538.8,366.4"/><polyline points="499,386 514,392 529,403.5"/><polyline points="487,426 505,427 521.7,431"/><polyline points="472.3,456.8 488,459 500.7,466.7"/><polyline points="449,485 475,487 497,492"/><polyline points="439,516 465,518 494,525"/><polyline points="425,544 447,547 466,554"/><polyline points="401,571 420,574 435,582"/><polyline points="571,199 559,215.6 559,239 580,264.4"/><polyline points="544.4,263 553,278 562.2,292.6"/><polyline points="600,200 590,215 600,240 620,262"/><polyline points="630,175 615,195 625,225 645,250"/><polyline points="287.3,491 284,512 281.7,533 265,552 253.3,569.6 250.5,598 253.3,637.5"/><polyline points="327,553 312,566 301.5,578.5 297.3,598 298.7,637.5"/><polyline points="366.7,591.4 350,610 345,622.3 342,634"/><polyline points="234,554 222,580 218.5,597.6 215.4,634.6"/><polyline points="200,575 190,595 182,615"/></g><!-- /ROADLINES --></g>
<path d="M634,164 C634.0,164.0 642.8,166.3 648.2,167.7 C653.6,169.1 656.5,169.6 661,170.9 C665.5,172.2 666.7,171.9 670.6,174.1 C674.5,176.3 677.1,178.6 680.3,182.1 C683.5,185.6 684.6,187.5 686.7,191.7 C688.8,195.9 689.7,198.5 690.7,203 C691.7,207.5 691.8,209.7 691.5,214.2 C691.2,218.7 690.7,220.9 689.1,225.4 C687.5,229.9 685.9,233.2 683.5,236.7 C681.1,240.2 679.9,241.0 677,243.1 C674.1,245.2 672.2,246.2 669,247.1 C665.8,248.0 664.2,247.3 661,247.6 C657.8,247.9 656.5,247.7 653,248.7 C649.5,249.7 647.5,250.6 643.3,252.7 C639.1,254.8 636.6,256.2 632.1,259.1 C627.6,262.0 625.3,263.2 620.9,267.2 C616.5,271.2 614.2,274.2 610,279 C605.8,283.8 604.2,286.4 600,291 C595.8,295.6 594.3,294.3 589,302 C583.7,309.7 579.6,320.2 573.5,329.6 C567.4,339.0 564.5,340.3 558.5,349.1 C552.5,357.9 548.6,363.6 543.7,373.8 C538.8,384.0 537.9,389.8 534,400 C530.1,410.2 528.1,414.8 524.2,424.7 C520.3,434.6 518.0,439.5 514.3,449.4 C510.6,459.3 508.9,464.5 505.7,474.1 C502.5,483.7 501.8,488.7 498.3,497.5 C494.8,506.3 492.0,510.7 488,518 C484.0,525.3 483.5,525.2 478.1,533.8 C472.7,542.4 468.8,551.1 460.9,561 C453.0,570.9 447.5,575.8 438.6,583.2 C429.7,590.6 425.8,592.1 416.4,598 C407.0,603.9 401.6,607.6 391.7,612.8 C381.8,618.0 376.9,620.0 367,624 C357.1,628.0 351.7,630.0 342.3,632.6 C332.9,635.2 329.9,635.5 320,636.8 C310.1,638.1 304.3,638.9 292.6,639.3 C280.9,639.7 272.6,639.8 261.7,639 C250.8,638.2 246.5,636.9 238.1,635.2 C229.7,633.5 227.0,632.8 219.6,630.6 C212.2,628.4 208.5,626.8 201.1,624 C193.7,621.2 190.0,619.6 182.6,616.7 C175.2,613.8 171.4,612.6 164,609.3 C156.6,606.0 153.0,604.1 145.6,600 C138.2,595.9 134.4,593.7 127,588.9 C119.6,584.1 115.9,581.8 108.5,575.9 C101.1,570.0 99.1,568.5 90,559.3 C80.9,550.1 71.7,540.3 63,530 C54.3,519.7 53.3,517.1 46.3,507.8 C39.3,498.5 35.0,493.1 27.8,483.7 C20.6,474.3 10.2,460.6 10.2,460.6 C10.2,460.6 10.2,386.5 10.2,386.5 C10.2,386.5 26.8,406.1 37,418.9 C47.2,431.7 51.8,438.2 61.1,450.4 C70.4,462.6 76.0,470.1 83.3,480 C90.6,489.9 90.5,491.9 97.4,500 C104.3,508.1 108.9,511.9 117.8,520.4 C126.7,528.9 131.9,534.8 141.9,542.6 C151.9,550.4 157.8,553.5 167.8,559.3 C177.8,565.1 185.1,568.7 191.9,571.5 C198.7,574.3 198.2,573.3 202,573.5 C205.8,573.7 207.5,573.2 211,572.3 C214.5,571.4 216.6,571.0 219.4,568.9 C222.2,566.8 223.6,564.9 225,561.8 C226.4,558.7 227.0,559.1 226.4,553.4 C225.8,547.7 224.1,543.1 222.2,533.5 C220.3,523.9 216.9,505.6 216.9,505.6 C216.9,505.6 312.0,482.7 312,482.7 C312.0,482.7 314.4,491.9 317.3,501.9 C320.2,511.9 323.5,522.8 326.6,532.8 C329.7,542.8 330.3,544.9 333,552 C335.7,559.1 337.5,563.4 339.9,568.4 C342.3,573.4 342.6,574.6 345,577 C347.4,579.4 347.8,580.1 352,580.5 C356.2,580.9 360.5,580.4 366,579 C371.5,577.6 371.8,577.4 379.4,573.3 C387.0,569.2 395.2,565.4 404.1,558.5 C413.0,551.6 416.9,547.7 423.8,538.8 C430.7,529.9 432.7,524.0 438.6,514.1 C444.5,504.2 447.6,499.8 453.5,489.4 C459.4,479.0 463.5,471.9 468.3,462 C473.1,452.1 474.1,448.7 477.6,440 C481.1,431.3 482.9,426.5 485.8,418.5 C488.7,410.5 489.4,409.3 492.1,400 C494.8,390.7 496.7,382.0 499.3,372 C501.9,362.0 501.6,362.0 505,350 C508.4,338.0 513.1,322.1 516.5,312.1 C519.9,302.1 520.2,305.1 522.2,300 C524.2,294.9 525.4,291.7 526.7,286.7 C528.0,281.7 528.0,278.7 528.9,274.8 C529.8,270.9 531.1,267.4 531.1,267.4 C531.1,267.4 540.7,257.0 540.7,257 C540.7,257.0 541.6,247.0 542.2,239.3 C542.8,231.6 543.8,224.7 543.7,218.5 C543.6,212.3 543.4,211.8 541.5,208.1 C539.6,204.4 534.1,200.0 534.1,200 C534.1,200.0 530.0,170.0 530,170 C530.0,170.0 634.0,164.0 634,164Z" fill="none" stroke="#3a3a3a" stroke-width="1.4" stroke-linejoin="round"/>
<rect x="0" y="380" width="10" height="90" fill="#fff"/>

<!-- OLD HOUSE -->
<g fill="none" stroke="#666" stroke-width="1.25">
<polygon points="140.4,248.4 286.4,220.7 294,267.4 273.6,271.9 296.7,374.6 265.6,380.8 270.8,409.2 178.5,428.2 164.6,369.4 137.7,373.9 126.6,321 154.3,314.1" fill="#fff"/>
<polyline points="286.4,220.7 313.3,214.5 330.6,291.6 280.5,302.7"/>
<polyline points="137.7,373.9 158.9,468.7 186.2,465.5"/>
<line x1="149.3" y1="422.1" x2="175" y2="417.3"/><polygon points="300.9,298.8 329.8,290.8 337.1,326 308.3,331.5"/><line x1="301.6" y1="302.1" x2="330.5" y2="294.3"/><line x1="302.4" y1="305.3" x2="331.3" y2="297.8"/><line x1="303.1" y1="308.6" x2="332.0" y2="301.4"/><line x1="303.9" y1="311.9" x2="332.7" y2="304.9"/><line x1="304.6" y1="315.1" x2="333.5" y2="308.4"/><line x1="305.3" y1="318.4" x2="334.2" y2="311.9"/><line x1="306.1" y1="321.7" x2="334.9" y2="315.4"/><line x1="306.8" y1="325.0" x2="335.6" y2="319.0"/><line x1="307.6" y1="328.2" x2="336.4" y2="322.5"/><polygon points="178.2,427 205.5,422.1 213.5,457.4 186.2,462.2"/><line x1="182.8" y1="426.2" x2="190.8" y2="461.4"/><line x1="187.3" y1="425.4" x2="195.3" y2="460.6"/><line x1="191.8" y1="424.6" x2="199.8" y2="459.8"/><line x1="196.4" y1="423.7" x2="204.4" y2="459.0"/><line x1="200.9" y1="422.9" x2="208.9" y2="458.2"/><polygon points="205.5,422.1 215.7,420.5 223.1,461.6 207.5,464.5"/>
</g>

<!-- BUILDINGS -->
<!-- outlines behind main house -->
<g fill="#fff" stroke="#666" stroke-width="1">
<rect x="758.8" y="338" width="53.2" height="239.3"/>
<rect x="682.7" y="315.8" width="76.1" height="56.2"/>
<rect x="612" y="293.6" width="70.7" height="38.4"/>
<line x1="704" y1="315.8" x2="704" y2="372"/>
<rect x="611.5" y="583.3" width="76" height="11.2"/>
<polyline points="614.8,584 614.8,597 676,597 678,594.5" fill="none"/>
</g>
<g fill="none" stroke="#c4c4c4" stroke-width="1">
<polyline points="758.8,315.8 774.8,315.8 774.8,338"/>
<polyline points="812,338 828,338 828,576 812,576"/>
<polyline points="682.7,292.5 698.3,292.5 698.3,315.8"/>
</g>
<g fill="#fff" stroke="#999" stroke-width="0.9">
<circle cx="606" cy="297" r="4"/><circle cx="598" cy="304" r="5"/><circle cx="608" cy="310" r="4.5"/><circle cx="592" cy="316" r="4.5"/><circle cx="603" cy="321" r="5"/><circle cx="591" cy="326" r="3.5"/><circle cx="609" cy="326" r="3.5"/>
<rect x="581.5" y="324.5" width="4.5" height="7.5" rx="1"/>
</g>
<polygon points="519,96.8 535,95.6 535.5,101.8 519.5,102.8" fill="#fff" stroke="#888" stroke-width="0.9"/>
<!-- garage -->
<polygon points="535.8,84.8 587.2,80.4 588,98 536.5,101.5" fill="#fff" stroke="#888" stroke-width="1"/>
<polygon points="518,103 629,94.7 636.5,191 525.4,199" fill="#808080" stroke="#111" stroke-width="2"/>

<!-- main house -->
<polygon points="577,332 700,332 700,372 649.5,372 649.5,476.5 577,476.5" fill="url(#stipple)" stroke="#111" stroke-width="2"/>
<rect x="649.5" y="372" width="143.2" height="120" fill="url(#stripe)" stroke="#111" stroke-width="2"/>
<rect x="542.5" y="476.5" width="232.3" height="106.7" fill="url(#stripe2)" stroke="#111" stroke-width="2"/>
<g fill="#777" stroke="#222" stroke-width="1.2">
<rect x="592.3" y="351.6" width="16.3" height="21.7"/>
<rect x="592.3" y="376.3" width="16.3" height="21.5"/>
<rect x="592.3" y="400.5" width="16.3" height="22.2"/>
<rect x="712.7" y="482.7" width="47.2" height="22.6" fill="#8a8a8a"/>
<rect x="717.5" y="485.9" width="37.3" height="16.8"/>
</g>

<!-- TREES -->
<g fill="none" stroke="#939393" stroke-width="1.2">
<circle cx="279.7" cy="129.5" r="44.4"/>
<circle cx="336.4" cy="140.8" r="35.9"/>
<circle cx="385.4" cy="122.8" r="45"/>
<circle cx="436" cy="139.5" r="38.9"/>
<circle cx="677.2" cy="129.7" r="33.8"/>
<circle cx="702.9" cy="179.7" r="44.8"/>
<circle cx="695.1" cy="237.2" r="33.8"/>
<circle cx="48.5" cy="605" r="36.1"/>
<circle cx="70" cy="646.2" r="56"/>
<circle cx="134.2" cy="653" r="44.8"/>
<circle cx="187.3" cy="655" r="29.3"/>
<circle cx="222" cy="646.6" r="29"/>
<circle cx="253.4" cy="660.6" r="29"/>
<circle cx="301" cy="649" r="29"/>
<circle cx="328" cy="649" r="29"/>
<circle cx="347.5" cy="641.3" r="19.5"/>
<circle cx="382.8" cy="639.7" r="28.8"/>
<circle cx="438" cy="625.5" r="44.4"/>
<circle cx="469" cy="590.3" r="29"/>
<circle cx="511.3" cy="611.8" r="29.2"/>
<circle cx="541.4" cy="627" r="29"/>
<circle cx="564" cy="614.5" r="18"/>
<circle cx="585.8" cy="614.5" r="20.2"/>
<circle cx="605.5" cy="634.5" r="20.2"/>
<circle cx="635" cy="622.2" r="24.7"/>
<circle cx="660.5" cy="614.9" r="17.9"/>
<circle cx="682.6" cy="614.9" r="20.3"/>
</g>
<g fill="#000">
<circle cx="279.7" cy="129.7" r="3.2"/>
<circle cx="336.3" cy="140.6" r="2.5"/>
<circle cx="385.4" cy="123" r="3.2"/>
<circle cx="435.6" cy="139.7" r="2.8"/>
<circle cx="677.1" cy="129.7" r="2.7"/>
<circle cx="703" cy="179.6" r="3.3"/>
<circle cx="694.8" cy="237.5" r="2.7"/>
<circle cx="48.4" cy="605" r="2.6"/>
<circle cx="70.4" cy="646.4" r="3.8"/>
<circle cx="134.4" cy="652.6" r="3"/>
<circle cx="187.2" cy="655" r="2.2"/>
<circle cx="222" cy="646.6" r="2.2"/>
<circle cx="253.4" cy="660.6" r="2.2"/>
<circle cx="301" cy="649" r="2.2"/>
<circle cx="328" cy="649" r="2.2"/>
<circle cx="347.4" cy="641.2" r="1.7"/>
<circle cx="382.4" cy="639.4" r="2.2"/>
<circle cx="437.6" cy="625.6" r="3"/>
<circle cx="468.8" cy="590.4" r="2.2"/>
<circle cx="511" cy="612" r="2.2"/>
<circle cx="541.4" cy="627" r="2.2"/>
<circle cx="564.3" cy="614.7" r="1.8"/>
<circle cx="585.7" cy="614.7" r="1.8"/>
<circle cx="605.7" cy="634.9" r="1.8"/>
<circle cx="635" cy="622" r="2.2"/>
<circle cx="661" cy="614.8" r="1.7"/>
<circle cx="682.3" cy="614.8" r="1.8"/>
</g>

<!-- NORTH ARROW -->
<g stroke="#000" fill="none">
<circle cx="33.4" cy="764" r="22.6" stroke-width="2"/>
<line x1="11" y1="764" x2="56" y2="764" stroke-width="1.3"/>
<line x1="33.4" y1="764" x2="33.4" y2="786.5" stroke-width="1.3"/>
<line x1="33.4" y1="741.5" x2="33.4" y2="764.5" stroke-width="3.6"/>
</g>
<!-- SCALE BAR -->
<g fill="#000">
<rect x="83.2" y="757" width="44.8" height="5.5"/>
<rect x="128" y="762.5" width="44.5" height="5.5"/>
<rect x="172.5" y="757" width="89.3" height="5.5"/>
</g>
<g font-family="Liberation Sans, sans-serif" font-size="16" fill="#000">
<text x="79.5" y="785.5">0'</text>
<text x="118.7" y="783.3">10'</text>
<text x="164.3" y="783.6">20'</text>
<text x="251.3" y="783.6">40'</text>
</g>
<g font-family="Liberation Sans, sans-serif" font-weight="bold" font-size="37.4" fill="#000" text-anchor="middle"><text transform="translate(1101 762) scale(0.476 1)">S</text><text transform="translate(1110.9 762) scale(0.685 1)">I</text><text transform="translate(1120.5 762) scale(0.552 1)">T</text><text transform="translate(1132.8 762) scale(0.504 1)">E</text><text transform="translate(1151.6 762) scale(0.543 1)">P</text><text transform="translate(1164.6 762) scale(0.504 1)">L</text><text transform="translate(1177.8 762) scale(0.557 1)">A</text><text transform="translate(1194 762) scale(0.552 1)">N</text></g>
</svg>
</body></html>
